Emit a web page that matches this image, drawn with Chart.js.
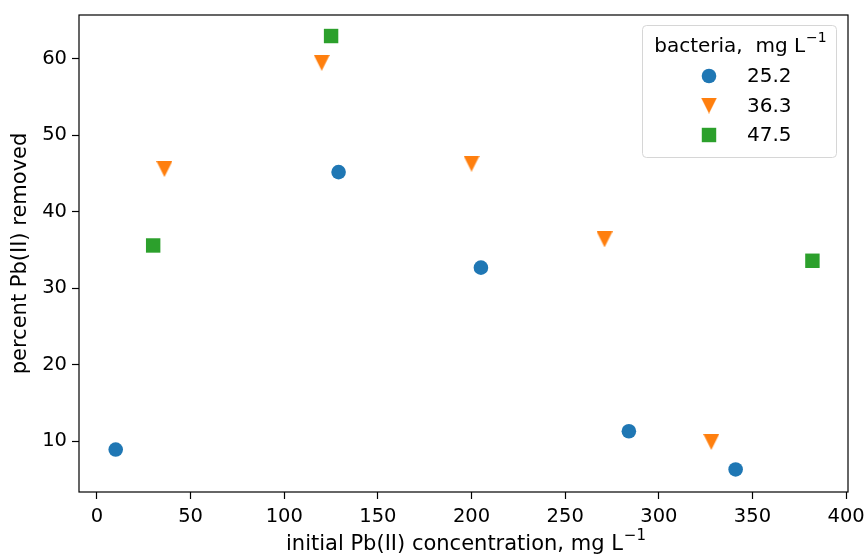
<!DOCTYPE html>
<html>
<head>
<meta charset="utf-8">
<script src="https://cdn.jsdelivr.net/npm/chart.js@4/dist/chart.umd.min.js"></script>
<style>
  html, body { margin: 0; padding: 0; background: #fff; }
  #wrap { width: 864px; height: 557px; }
</style>
</head>
<body>
<div id="wrap"><canvas id="chart" width="864" height="557"></canvas></div>
<script>
const legendTitle = "bacteria,  mg L";
const xTitle = "initial Pb(II) concentration, mg L";
const yTitle = "percent Pb(II) removed";
const seriesLabels = ["25.2", "36.3", "47.5"];
const xTicks = [0, 50, 100, 150, 200, 250, 300, 350, 400];
const yTicks = [10, 20, 30, 40, 50, 60];

const conc252 = [10, 129, 205, 284, 341];
const removed252 = [8.9, 45.2, 32.7, 11.3, 6.3];
const conc363 = [36, 120, 200, 271, 328];
const removed363 = [45.6, 59.5, 46.3, 36.4, 9.9];
const conc475 = [30, 125, 382];
const removed475 = [35.6, 63.0, 33.6];

const toPoints = (xs, ys) => xs.map((x, i) => ({ x: x, y: ys[i] }));
const font = "'DejaVu Sans', sans-serif";
const tickSize = 19.5;
const labelSize = 21;
const legendSize = 20;

// matplotlib-like "v" marker, centred on its bounding box
function triangleDown(size, color) {
  const c = document.createElement("canvas");
  c.width = size; c.height = size;
  const g = c.getContext("2d");
  g.fillStyle = color;
  g.beginPath();
  g.moveTo(0, 0);
  g.lineTo(size, 0);
  g.lineTo(size / 2, size);
  g.closePath();
  g.fill();
  return c;
}

// text followed by a "−1" superscript
function drawWithSup(ctx, text, cx, cy, size) {
  ctx.font = size + "px " + font;
  const w1 = ctx.measureText(text).width;
  ctx.font = Math.round(size * 0.7) + "px " + font;
  const w2 = ctx.measureText("\u22121").width;
  const x0 = cx - (w1 + w2) / 2;
  ctx.textAlign = "left";
  ctx.textBaseline = "middle";
  ctx.font = size + "px " + font;
  ctx.fillText(text, x0, cy);
  ctx.font = Math.round(size * 0.7) + "px " + font;
  ctx.fillText("\u22121", x0 + w1 + 1, cy - size * 0.42);
}

const legendBox = {
  id: "legendBox",
  afterDraw(chart) {
    const ctx = chart.ctx;
    const x0 = 642, y0 = 25, w = 194, h = 132;
    ctx.save();
    ctx.fillStyle = "rgba(255,255,255,0.8)";
    ctx.strokeStyle = "#d6d6d6";
    ctx.lineWidth = 1;
    ctx.beginPath();
    ctx.roundRect(x0 + 0.5, y0 + 0.5, w, h, 4);
    ctx.fill();
    ctx.stroke();
    ctx.fillStyle = "#000";
    drawWithSup(ctx, legendTitle, x0 + w / 2 + 1, y0 + 22, legendSize);
    ctx.textAlign = "left";
    ctx.textBaseline = "middle";
    ctx.font = legendSize + "px " + font;
    chart.data.datasets.forEach((ds, i) => {
      const cy = y0 + 51 + i * 29.5;
      ctx.fillStyle = ds.backgroundColor;
      Chart.helpers.drawPoint(ctx, {
        pointStyle: ds.pointStyle,
        radius: ds.pointRadius,
        rotation: 0,
        borderWidth: 0
      }, x0 + 67, cy);
      ctx.fillStyle = "#000";
      ctx.fillText(ds.label, x0 + 105, cy + 1);
    });
    ctx.restore();
  }
};

const frame = {
  id: "frame",
  afterDraw(chart) {
    const a = chart.chartArea, ctx = chart.ctx;
    ctx.save();
    ctx.strokeStyle = "#000";
    ctx.lineWidth = 1.2;
    ctx.strokeRect(a.left, a.top, a.right - a.left, a.bottom - a.top);
    ctx.fillStyle = "#000";
    drawWithSup(ctx, xTitle, (a.left + a.right) / 2 + 2, 545, labelSize);
    ctx.restore();
  }
};

new Chart(document.getElementById("chart"), {
  type: "scatter",
  data: {
    datasets: [
      {
        label: seriesLabels[0],
        data: toPoints(conc252, removed252),
        backgroundColor: "#1f77b4",
        borderColor: "#1f77b4",
        pointStyle: "circle",
        pointRadius: 7.3,
        pointHoverRadius: 7.3,
        borderWidth: 0
      },
      {
        label: seriesLabels[1],
        data: toPoints(conc363, removed363),
        backgroundColor: "#ff7f0e",
        borderColor: "#ff7f0e",
        pointStyle: triangleDown(16, "#ff7f0e"),
        pointRadius: 8,
        pointHoverRadius: 8,
        borderWidth: 0
      },
      {
        label: seriesLabels[2],
        data: toPoints(conc475, removed475),
        backgroundColor: "#2ca02c",
        borderColor: "#2ca02c",
        pointStyle: "rect",
        pointRadius: 10.2,
        pointHoverRadius: 10.2,
        borderWidth: 0
      }
    ]
  },
  options: {
    responsive: false,
    animation: false,
    layout: { padding: { left: 0, right: 16, top: 15, bottom: 0 } },
    plugins: {
      legend: { display: false },
      tooltip: { enabled: false }
    },
    scales: {
      x: {
        type: "linear",
        min: -9.6,
        max: 401,
        grid: { display: true, drawOnChartArea: false, drawTicks: true, tickLength: 7, tickColor: "#000", tickWidth: 1.2 },
        border: { display: false },
        afterBuildTicks: (axis) => { axis.ticks = xTicks.map(v => ({ value: v })); },
        afterFit: (axis) => { axis.height = 65; axis.paddingRight = 0; axis.paddingLeft = 0; },
        ticks: { color: "#000", font: { family: font, size: tickSize }, padding: 6, maxRotation: 0 },
        title: { display: false }
      },
      y: {
        type: "linear",
        min: 3.35,
        max: 65.75,
        grid: { display: true, drawOnChartArea: false, drawTicks: true, tickLength: 7, tickColor: "#000", tickWidth: 1.2 },
        border: { display: false },
        afterBuildTicks: (axis) => { axis.ticks = yTicks.map(v => ({ value: v })); },
        afterFit: (axis) => { axis.width = 79; axis.paddingTop = 0; axis.paddingBottom = 0; },
        ticks: { color: "#000", font: { family: font, size: tickSize }, padding: 5 },
        title: {
          display: true,
          text: yTitle,
          color: "#000",
          font: { family: font, size: labelSize },
          padding: { top: 8, bottom: 6 }
        }
      }
    }
  },
  plugins: [frame, legendBox]
});
</script>
</body>
</html>
